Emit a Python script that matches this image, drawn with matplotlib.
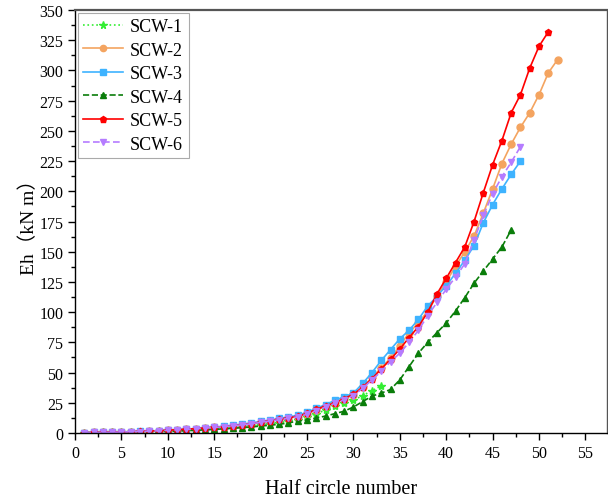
import numpy as np
import matplotlib
matplotlib.use('Agg')
import matplotlib.pyplot as plt
from matplotlib.ticker import MultipleLocator

plt.rcParams['font.family'] = ['Liberation Serif', 'Noto Sans CJK SC']

# energy dissipation per half cycle
scw1 = [0.2, 0.3, 0.4, 0.5, 0.6, 0.7, 0.9, 1.1, 1.3, 1.6,
        1.9, 2.2, 2.6, 3.0, 3.4, 3.8, 4.4, 5.0, 5.8, 6.7,
        7.6, 8.6, 9.7, 11, 13, 16, 19, 22, 25, 27,
        31, 35, 39]
scw2 = [0.3, 0.4, 0.5, 0.6, 0.8, 1.0, 1.2, 1.5, 1.8, 2.2,
        2.6, 3.0, 3.5, 4.0, 4.6, 5.2, 5.9, 6.7, 7.6, 8.8,
        10, 11.2, 12.4, 13.6, 16, 19, 22, 25, 28.5, 31.5,
        38, 46, 54, 62, 72, 83, 91, 101, 113, 125,
        138, 150, 163, 182, 202, 223, 239, 253, 265, 280,
        298, 309]
scw3 = [0.3, 0.5, 0.6, 0.7, 0.9, 1.1, 1.4, 1.7, 2.0, 2.4,
        2.8, 3.2, 3.7, 4.3, 4.9, 5.6, 6.4, 7.3, 8.3, 9.5,
        10.7, 12, 13.3, 14.7, 17, 20.5, 23.5, 27, 30, 33,
        41, 50, 60, 69, 78, 85, 94, 105, 113, 122,
        132, 143, 155, 174, 189, 202, 214, 225]
scw4 = [0.1, 0.2, 0.3, 0.4, 0.5, 0.6, 0.7, 0.9, 1.1, 1.3,
        1.6, 1.9, 2.2, 2.6, 3.0, 3.4, 3.9, 4.4, 5.0, 5.7,
        6.4, 7.2, 8.3, 9.9, 10.8, 12.4, 14, 16, 18, 21.5,
        26, 30.5, 33, 36, 44, 55, 66, 75, 83, 91,
        101, 112, 124, 134, 144, 154, 168]
scw5 = [0.3, 0.4, 0.5, 0.7, 0.9, 1.1, 1.3, 1.6, 1.9, 2.3,
        2.7, 3.1, 3.6, 4.1, 4.7, 5.3, 6.0, 6.8, 7.8, 9,
        10.2, 11.4, 12.6, 13.8, 16.3, 19.5, 22.5, 25, 28.5, 32,
        38, 45, 53, 61, 69.5, 79, 88, 100, 115, 128,
        141, 154, 175, 199, 222, 242, 265, 280, 302, 320,
        332]
scw6 = [0.3, 0.4, 0.5, 0.6, 0.8, 1.0, 1.2, 1.5, 1.8, 2.2,
        2.6, 3.0, 3.5, 4.0, 4.6, 5.2, 5.9, 6.7, 7.6, 8.8,
        9.9, 11, 12.2, 13.4, 15.5, 18.5, 21.5, 24.5, 27.5, 31,
        37, 44, 51, 59, 66, 75, 85, 97, 108, 119,
        129, 140, 160, 180, 198, 212, 224, 237]

series = [scw1, scw2, scw3, scw4, scw5, scw6]
labels = ['SCW-1', 'SCW-2', 'SCW-3', 'SCW-4', 'SCW-5', 'SCW-6']
colors = ['#33ee33', '#f4a460', '#3eb3ff', '#0a7d0a', '#ff0000', '#b57cff']
markers = ['*', 'o', 's', '^', 'p', 'v']
styles = [':', '-', '-', '--', '-', (0, (4, 2))]

fig = plt.figure(figsize=(6.08, 5.02), dpi=100)
ax = fig.add_axes([0.1234, 0.1355, 0.8746, 0.8425])

for y, lab, c, m, ls in zip(series, labels, colors, markers, styles):
    x = np.arange(1, len(y) + 1)
    ms = 6 if m == '*' else 5
    ax.plot(x, y, color=c, marker=m, ls=ls, lw=1.2, ms=ms, label=lab,
            markeredgecolor=c)

ax.set_xlim(0, 57.3)
ax.set_ylim(0, 350)
ax.xaxis.set_major_locator(MultipleLocator(5))
ax.xaxis.set_minor_locator(MultipleLocator(2.5))
ax.yaxis.set_major_locator(MultipleLocator(25))
ax.yaxis.set_minor_locator(MultipleLocator(12.5))
ax.tick_params(which='major', direction='out', length=5, width=1, labelsize=11.5)
ax.tick_params(which='minor', direction='out', length=3, width=1)
for s in ax.spines.values():
    s.set_linewidth(1)
ax.spines['top'].set_linewidth(1.6)
ax.spines['top'].set_color('#555555')
ax.spines['right'].set_color('#555555')

ax.set_xlabel('Half circle number', fontsize=14.5, labelpad=13)
ax.set_ylabel('Eh（kN m）', fontsize=14, labelpad=1)

leg = ax.legend(loc='upper left', fontsize=13, handlelength=2.2,
                labelspacing=0.36, borderaxespad=0.15, borderpad=0.3,
                fancybox=False, framealpha=1, edgecolor='#aaaaaa',
                handletextpad=0.4, markerscale=0.9)
leg.get_frame().set_linewidth(0.8)

fig.savefig('out.png', dpi=100)
